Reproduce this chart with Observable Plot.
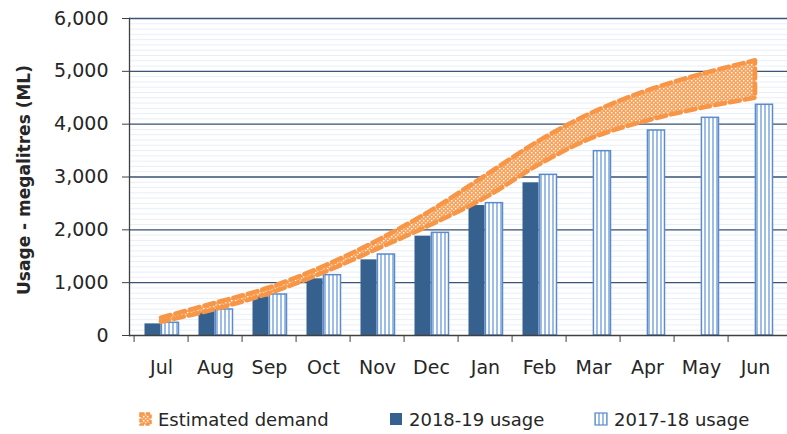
<!DOCTYPE html>
<html>
<head>
<meta charset="utf-8">
<script src="https://cdn.jsdelivr.net/npm/d3@7"></script>
<script src="https://cdn.jsdelivr.net/npm/@observablehq/plot@0.6"></script>
<style>
  html, body { margin: 0; padding: 0; background: #fff; }
  #wrap { width: 787px; height: 434px; position: relative; overflow: hidden; font-family: "DejaVu Sans", sans-serif; }
  #legend { position: absolute; left: 0; top: 395px; width: 787px; height: 39px; font-size: 18px; color: #262626; }
  .item { position: absolute; top: 13px; display: flex; align-items: center; height: 22px; }
  .item svg { margin-right: 6px; }
</style>
</head>
<body>
<svg width="0" height="0" style="position:absolute">
  <defs>
    <pattern id="demandPat" width="4" height="4" patternUnits="userSpaceOnUse">
      <rect width="4" height="4" fill="#F8A25C"></rect>
      <rect x="0" y="0" width="1.4" height="1.4" fill="#ffffff"></rect>
      <rect x="2" y="2" width="1.4" height="1.4" fill="#ffffff" opacity="0.8"></rect>
    </pattern>
    <pattern id="stripePat" width="4" height="4" patternUnits="userSpaceOnUse">
      <rect width="4" height="4" fill="#ffffff"></rect>
      <rect x="0" y="0" width="2" height="4" fill="#9DBDE6"></rect>
    </pattern>
  </defs>
</svg>
<div id="wrap">
  <div id="chart"></div>
  <div id="legend"></div>
</div>
<script>
const months = ["Jul","Aug","Sep","Oct","Nov","Dec","Jan","Feb","Mar","Apr","May","Jun"];
const usage1819 = [220, 473, 732, 1073, 1432, 1880, 2460, 2890];
const usage1718 = [240, 492, 776, 1142, 1533, 1943, 2505, 3041, 3489, 3880, 4120, 4367];
const demandLow  = [250, 490, 790, 1180, 1630, 2090, 2600, 3230, 3740, 4060, 4300, 4490];
const demandHigh = [330, 610, 900, 1300, 1790, 2360, 3020, 3680, 4220, 4630, 4940, 5200];
const yTicks = [0, 1000, 2000, 3000, 4000, 5000, 6000];
const minorTicks = d3.range(0, 6000, 100);
const yLabel = "Usage - megalitres (ML)";
const legendItems = ["Estimated demand", "2018-19 usage", "2017-18 usage"];

const d1819 = usage1819.map((v, i) => ({month: months[i], value: v}));
const d1718 = usage1718.map((v, i) => ({month: months[i], value: v}));
const demand = months.map((m, i) => ({month: m, lo: demandLow[i], hi: demandHigh[i]}));

const W = 787, H = 395, ML = 129, MR = 0, MT = 18, MB = 60;
const bw = (W - ML - MR) / months.length;

const chart = Plot.plot({
  width: W, height: H,
  marginLeft: ML, marginRight: MR, marginTop: MT, marginBottom: MB,
  style: {fontFamily: "DejaVu Sans, sans-serif", fontSize: "19px", color: "#262626", background: "transparent"},
  x: {domain: months, padding: 0, axis: null},
  y: {domain: [0, 6000], axis: null},
  marks: [
    Plot.ruleY(minorTicks, {stroke: "#E8EFF8", strokeWidth: 1}),
    Plot.ruleY(yTicks.filter(v => v > 0), {stroke: "#3B5577", strokeWidth: 1.3}),
    Plot.barY(d1819, {x: "month", y: "value", fill: "#36618F", insetLeft: 10.5, insetRight: bw / 2}),
    Plot.barY(d1718, {x: "month", y: "value", fill: "url(#stripePat)", stroke: "#5B8BCB", strokeWidth: 1.5, insetLeft: bw / 2, insetRight: 9.5}),
    Plot.areaY(demand, {x: "month", y1: "lo", y2: "hi", fill: "url(#demandPat)", stroke: "#F79646", strokeWidth: 4.5, strokeDasharray: "10,5", curve: "catmull-rom"}),
    Plot.ruleY([0], {stroke: "#404040", strokeWidth: 1.3}),
    Plot.frame({anchor: "left", stroke: "#404040", strokeWidth: 1.3}),
    Plot.axisY({ticks: yTicks, tickSize: 7, tickPadding: 14, tickFormat: d3.format(","), label: null, stroke: "#404040"}),
    Plot.axisX({tickSize: 7, tickFormat: () => "", dx: -bw / 2, label: null, stroke: "#404040"}),
    Plot.axisX({tickSize: 0, tickPadding: 25, label: null}),
    Plot.text([yLabel], {frameAnchor: "left", dx: -105, dy: 3, rotate: -90, textAnchor: "middle", lineAnchor: "middle", fontWeight: "bold", fontSize: 17, fill: "#262626"})
  ]
});
document.getElementById("chart").appendChild(chart);

const legend = document.getElementById("legend");
const swatches = [
  `<svg width="13" height="14"><rect x="1.5" y="1.5" width="10" height="11" fill="url(#demandPat)" stroke="#F79646" stroke-width="2.5" stroke-dasharray="4,1.5"></rect></svg>`,
  `<svg width="14" height="14"><rect x="1" y="1" width="12" height="12" fill="#36618F"></rect></svg>`,
  `<svg width="14" height="14"><rect x="1" y="1" width="12" height="12" fill="url(#stripePat)" stroke="#5B8BCB" stroke-width="1.2"></rect></svg>`
];
const lefts = [139, 389, 594];
legendItems.forEach((t, i) => {
  const d = document.createElement("div");
  d.className = "item";
  d.style.left = lefts[i] + "px";
  d.innerHTML = swatches[i] + `<span>${t}</span>`;
  legend.appendChild(d);
});
</script>
</body>
</html>
